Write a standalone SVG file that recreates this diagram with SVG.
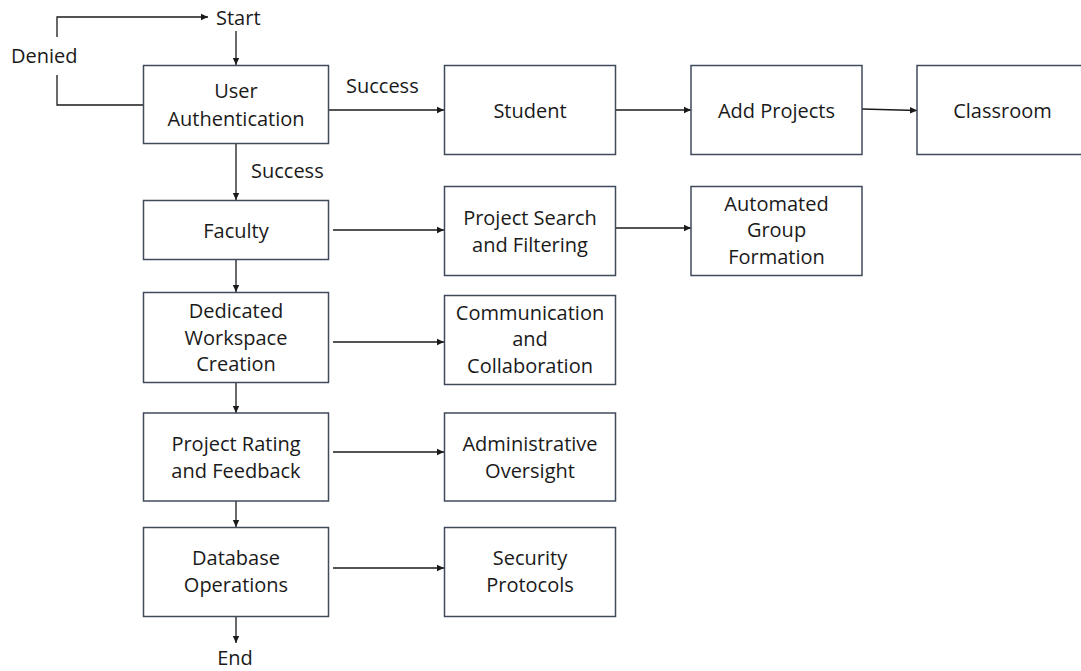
<svg xmlns="http://www.w3.org/2000/svg" width="1081" height="671" viewBox="0 0 1081 671">
<style>
.box{fill:#ffffff;stroke:#3f4b5b;stroke-width:1.5}
.t{font-family:"Open Sans","Noto Sans","Liberation Sans",sans-serif;font-size:20px;fill:#1a1a1a;text-anchor:middle}
.ts{font-family:"Open Sans","Noto Sans","Liberation Sans",sans-serif;font-size:20px;fill:#1a1a1a}
.c{fill:none;stroke:#1a1a1a;stroke-width:1.3}
.ca{fill:none;stroke:#1a1a1a;stroke-width:1.3;marker-end:url(#ah)}
</style>
<defs>
<marker id="ah" markerWidth="8" markerHeight="8" refX="7" refY="4" orient="auto" markerUnits="userSpaceOnUse">
<path d="M0,0.8 L7,4 L0,7.2 Z" fill="#1a1a1a"/>
</marker>
</defs>
<rect width="1081" height="671" fill="#ffffff"/>
<g id="connectors">
<path class="c" d="M143,105 H57 V75"/>
<path class="ca" d="M57,37 V17 H208"/>
<path class="ca" d="M236,31 V65"/>
<path class="ca" d="M328,110 H444"/>
<path class="ca" d="M616,110 H691"/>
<path class="ca" d="M862,109 L917,110.5"/>
<path class="ca" d="M236,143 V200"/>
<path class="ca" d="M333,230 H444"/>
<path class="ca" d="M616,228 H691"/>
<path class="ca" d="M236,259 V292"/>
<path class="ca" d="M333,342 H444"/>
<path class="ca" d="M236,382 V413"/>
<path class="ca" d="M333,452 H444"/>
<path class="ca" d="M236,501 V527"/>
<path class="ca" d="M333,568 H444"/>
<path class="ca" d="M236,617 V643"/>
</g>
<g id="labels">
<text class="ts" x="11" y="63">Denied</text>
<text class="ts" x="346" y="93">Success</text>
<text class="ts" x="251" y="178">Success</text>
</g>
<g id="start"><text class="ts" x="216" y="25">Start</text></g>
<g id="user-auth">
<rect class="box" x="143.5" y="65.5" width="185" height="78"/>
<text class="t" x="236" y="98">User</text>
<text class="t" x="236" y="125.5">Authentication</text>
</g>
<g id="student">
<rect class="box" x="444.5" y="65.5" width="171" height="89"/>
<text class="t" x="530" y="117.5">Student</text>
</g>
<g id="add-projects">
<rect class="box" x="691" y="65.5" width="171" height="89"/>
<text class="t" x="776.5" y="117.5">Add Projects</text>
</g>
<g id="classroom">
<rect class="box" x="917" y="65.5" width="171" height="89"/>
<text class="t" x="1002.5" y="117.5">Classroom</text>
</g>
<g id="faculty">
<rect class="box" x="143.5" y="200.5" width="185" height="59"/>
<text class="t" x="236" y="237.5">Faculty</text>
</g>
<g id="project-search">
<rect class="box" x="444.5" y="186.5" width="171" height="89"/>
<text class="t" x="530" y="225">Project Search</text>
<text class="t" x="530" y="251.5">and Filtering</text>
</g>
<g id="automated-group">
<rect class="box" x="691" y="186.5" width="171" height="89"/>
<text class="t" x="776.5" y="211">Automated</text>
<text class="t" x="776.5" y="237">Group</text>
<text class="t" x="776.5" y="263.5">Formation</text>
</g>
<g id="dedicated-workspace">
<rect class="box" x="143.5" y="292.5" width="185" height="90"/>
<text class="t" x="236" y="317.5">Dedicated</text>
<text class="t" x="236" y="344.5">Workspace</text>
<text class="t" x="236" y="371">Creation</text>
</g>
<g id="communication">
<rect class="box" x="444.5" y="295.5" width="171" height="89"/>
<text class="t" x="530" y="319.5">Communication</text>
<text class="t" x="530" y="346">and</text>
<text class="t" x="530" y="372.5">Collaboration</text>
</g>
<g id="project-rating">
<rect class="box" x="143.5" y="413" width="185" height="88"/>
<text class="t" x="236" y="450.5">Project Rating</text>
<text class="t" x="236" y="477.5">and Feedback</text>
</g>
<g id="administrative">
<rect class="box" x="444.5" y="413" width="171" height="88"/>
<text class="t" x="530" y="450.5">Administrative</text>
<text class="t" x="530" y="477.5">Oversight</text>
</g>
<g id="database">
<rect class="box" x="143.5" y="527.5" width="185" height="89"/>
<text class="t" x="236" y="565">Database</text>
<text class="t" x="236" y="592">Operations</text>
</g>
<g id="security">
<rect class="box" x="444.5" y="527.5" width="171" height="89"/>
<text class="t" x="530" y="565">Security</text>
<text class="t" x="530" y="592">Protocols</text>
</g>
<g id="end"><text class="t" x="235" y="665">End</text></g>
</svg>
